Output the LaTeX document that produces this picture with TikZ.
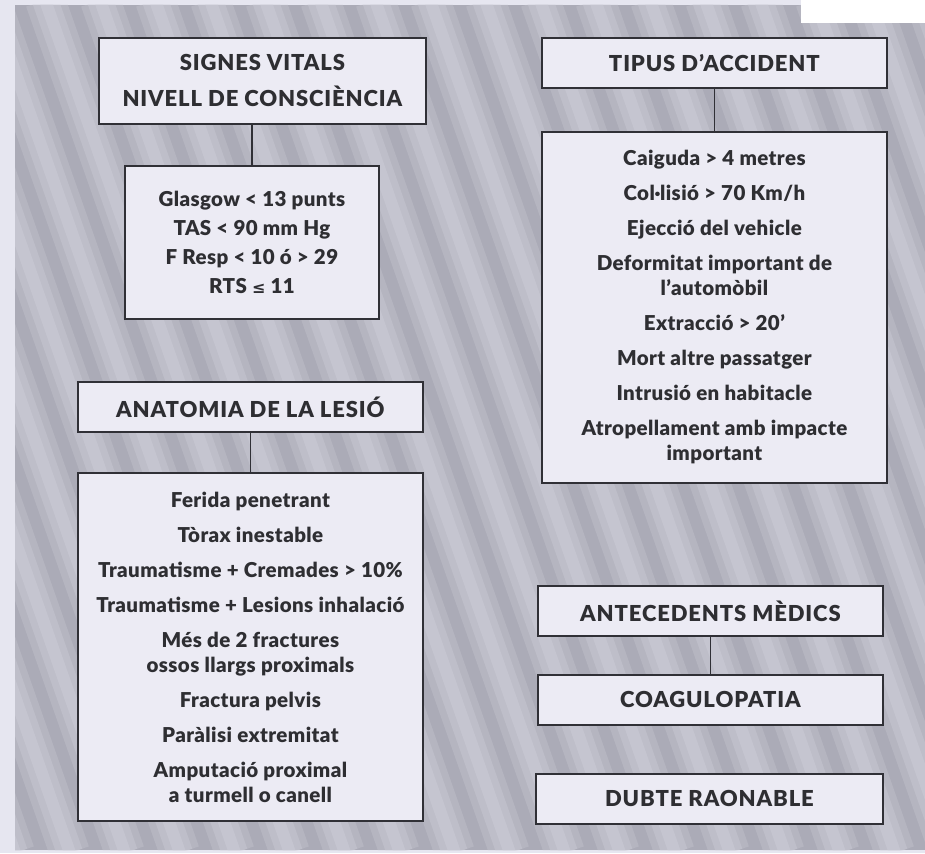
\documentclass[tikz,border=0pt]{standalone}
\usepackage{fontspec}
\setmainfont{Lato}[BoldFont={Lato Black},LetterSpace=2]
\newfontfamily\hdfont{Lato}[BoldFont={Lato Black},LetterSpace=4]
\newfontfamily\symfont{DejaVu Sans}
\definecolor{bgout}{HTML}{E6E6F0}
\definecolor{bggray}{HTML}{ABABB7}
\definecolor{bgstripe}{HTML}{D4D4DE}
\definecolor{boxfill}{HTML}{ECEBF4}
\definecolor{boxline}{HTML}{303036}
\definecolor{txt}{HTML}{2E2E32}
\tikzset{
  box/.style={draw=boxline, line width=1.8pt, fill=boxfill, inner sep=0pt,
    anchor=north west, align=center, text=txt},
  headtext/.style={font=\hdfont\bfseries\fontsize{22}{36}\selectfont},
  bodytext/.style={font=\bfseries\fontsize{20.5}{25}\selectfont},
  link/.style={draw=boxline, line width=1.5pt},
}
\begin{document}
\begin{tikzpicture}[x=1pt,y=-1pt]
\useasboundingbox (0,0) rectangle (925,853);
% background
\fill[bgout] (0,0) rectangle (925,853);
\begin{scope}
  \clip (15,5) rectangle (925,850);
  \fill[bggray] (15,5) rectangle (925,850);
  \foreach \x in {-340,-285,...,980} {
    \draw[bgstripe, line width=40pt, opacity=0.25] (\x,0) -- (\x+300,853);
    \draw[bgstripe, line width=26pt, opacity=0.3] (\x,0) -- (\x+300,853);
    \draw[bgstripe, line width=12pt, opacity=0.35] (\x,0) -- (\x+300,853);
  }
\end{scope}
\fill[white] (801,0) rectangle (925,23);

% left column
\node[box, headtext, minimum width=327pt, minimum height=86pt] (sv) at (98,37)
  {SIGNES VITALS\\NIVELL DE CONSCIÈNCIA};
\node[box, bodytext, minimum width=254pt, minimum height=153pt] (gl) at (124,165)
  {Glasgow < 13 punts\\[4pt] TAS < 90 mm Hg\\[4pt] F Resp < 10 ó > 29\\[4pt] RTS {\symfont\bfseries\fontsize{16}{25}\selectfont ≤} 11};
\node[box, headtext, minimum width=345pt, minimum height=50pt] (an) at (77,381)
  {ANATOMIA DE LA LESIÓ};
\node[box, bodytext, minimum width=345pt, minimum height=348pt] (fe) at (77,472)
  {Ferida penetrant\\[10pt] Tòrax inestable\\[10pt] Traumatisme + Cremades > 10\%\\[10pt]
   Traumatisme + Lesions inhalació\\[10pt] Més de 2 fractures\\ ossos llargs proximals\\[10pt]
   Fractura pelvis\\[10pt] Paràlisi extremitat\\[10pt] Amputació proximal\\ a turmell o canell};

% right column
\node[box, headtext, minimum width=345pt, minimum height=50pt] (ti) at (541,37)
  {TIPUS D’ACCIDENT};
\node[box, bodytext, minimum width=345pt, minimum height=351pt] (ca) at (541,131)
  {Caiguda > 4 metres\\[10pt] Col·lisió > 70 Km/h\\[10pt] Ejecció del vehicle\\[10pt]
   Deformitat important de\\ l’automòbil\\[10pt] Extracció > 20’\\[10pt] Mort altre passatger\\[10pt]
   Intrusió en habitacle\\[10pt] Atropellament amb impacte\\ important};
\node[box, headtext, minimum width=345pt, minimum height=50pt] (ad) at (537,585)
  {ANTECEDENTS MÈDICS};
\node[box, headtext, minimum width=345pt, minimum height=50pt] (co) at (537,674)
  {COAGULOPATIA};
\node[box, headtext, minimum width=347pt, minimum height=50pt] (db) at (535,773)
  {DUBTE RAONABLE};

% connectors
\draw[link] (gl.north) -- (gl.north |- sv.south);
\draw[link] (fe.north) -- (fe.north |- an.south);
\draw[link] (ca.north) -- (ca.north |- ti.south);
\draw[link] (co.north) -- (co.north |- ad.south);
\end{tikzpicture}
\end{document}
